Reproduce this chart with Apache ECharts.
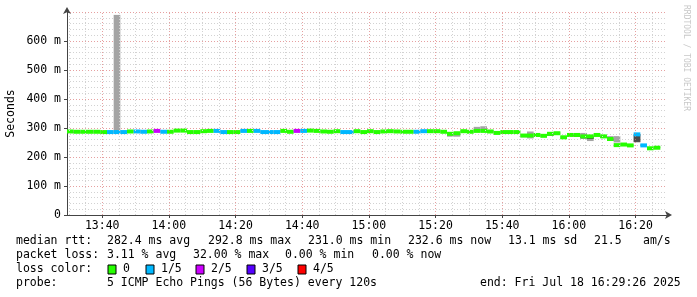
<!DOCTYPE html>
<html><head><meta charset="utf-8">
<script src="https://cdn.jsdelivr.net/npm/echarts@6/dist/echarts.min.js"></script>
<style>html,body{margin:0;padding:0;background:#fff}#c{width:697px;height:297px}</style>
</head><body><div id="c"></div>
<script>
// ---- data (ms), one value per 2-minute probe step ----
const startTime = 13*3600 + 29*60 + 26;   // 13:29:26
const endTime = 16*3600 + 29*60 + 26;     // 16:29:26
const stepSec = 120;
const median = [288,287,287,287,287,286,286,286,286,288,288,287,288,290,287,287,291,291,286,286,
  289,290,290,286,286,286,290,290,290,286,286,286,290,287,290,290,291,290,288,287,
  289,286,286,289,286,289,286,288,289,288,287,287,287,289,289,289,287,280,282,289,
  287,290,290,288,283,286,286,286,274,274,276,273,280,282,268,276,276,271,271,276,
  271,262,241,243,240,278,240,230,232];
// loss count out of 5 pings
const loss = [0,0,0,0,0,0,1,1,1,0,1,1,0,2,1,0,0,0,0,0,
  0,0,1,1,0,0,1,0,1,1,1,1,0,0,2,1,0,0,0,0,
  0,1,1,0,0,0,0,0,0,0,0,0,1,1,0,0,0,0,0,0,
  0,0,0,0,0,0,0,0,0,0,0,0,0,0,0,0,0,0,0,0,
  0,0,0,0,0,1,1,0,0];
const smokeLo = [285,283,285,285,285,280,284,284,284,286,285,284,286,287,285,285,288,288,284,284,
  287,288,287,284,284,284,287,288,287,283,284,284,287,285,288,287,289,288,286,285,
  287,284,284,287,284,287,284,286,287,286,285,284,284,286,287,287,284,270,270,286,
  285,287,287,284,279,284,284,284,268,264,270,270,274,278,262,272,272,262,255,272,
  266,256,250,240,238,250,238,229,231];
const smokeHi = [291,290,290,290,293,289,289,690,289,291,291,293,291,293,290,290,294,294,289,289,
  292,293,293,289,289,289,293,293,293,289,289,289,293,290,293,293,294,293,291,290,
  292,289,289,292,289,292,289,291,292,291,290,290,290,292,292,292,290,284,285,292,
  290,304,306,292,288,289,289,289,278,288,280,277,284,285,272,280,280,283,276,280,
  276,272,272,248,242,278,244,233,235];
const darkLo = [-1,283,-1,-1,-1,-1,-1,-1,-1,-1,-1,-1,-1,-1,-1,-1,-1,-1,-1,-1,
  -1,-1,-1,-1,-1,-1,-1,-1,-1,-1,-1,-1,-1,-1,-1,-1,-1,-1,-1,-1,
  -1,-1,-1,-1,-1,-1,-1,-1,-1,-1,-1,-1,-1,-1,-1,-1,-1,-1,-1,-1,
  -1,-1,-1,-1,-1,-1,-1,-1,-1,-1,-1,-1,274,-1,-1,-1,270,265,262,-1,
  266,256,-1,-1,-1,252,-1,-1,-1];
const darkHi = [-1,286,-1,-1,-1,-1,-1,-1,-1,-1,-1,-1,-1,-1,-1,-1,-1,-1,-1,-1,
  -1,-1,-1,-1,-1,-1,-1,-1,-1,-1,-1,-1,-1,-1,-1,-1,-1,-1,-1,-1,
  -1,-1,-1,-1,-1,-1,-1,-1,-1,-1,-1,-1,-1,-1,-1,-1,-1,-1,-1,-1,
  -1,-1,-1,-1,-1,-1,-1,-1,-1,-1,-1,-1,282,-1,-1,-1,276,271,271,-1,
  271,264,-1,-1,-1,278,-1,-1,-1];
const lossColors = ['#26ff00','#00b8ff','#cc00ff','#5500ff','#ff0000'];
const lossLabels = ['0','1/5','2/5','3/5','4/5'];
const xLabelTimes = ['13:40','14:00','14:20','14:40','15:00','15:20','15:40','16:00','16:20'];

const toSec = s => { const [h,m] = s.split(':').map(Number); return h*3600+m*60; };
const fmt = v => { const h = Math.floor(v/3600), m = Math.round((v%3600)/60); return String(h).padStart(2,'0')+':'+String(m).padStart(2,'0'); };
const majorX = xLabelTimes.map(toSec);
const minorX = [];
for (let t = toSec('13:30'); t < endTime; t += 300) if (!majorX.includes(t)) minorX.push(t);

const rows = median.map((m,i) => [startTime+i*stepSec, startTime+(i+1)*stepSec, smokeLo[i], smokeHi[i], darkLo[i], darkHi[i], m, loss[i]]);

const FONT = '"DejaVu Sans Mono", monospace';
const chart = echarts.init(document.getElementById('c'), null, {renderer:'canvas'});
const txt = (t,x,y,extra) => Object.assign({type:'text', style:{text:t, x:x, y:y, font:'11.5px '+FONT, fill:'#000', verticalAlign:'middle', textVerticalAlign:'middle'}}, extra||{});

const graphics = [
  txt('median rtt:',16,241), txt('282.4 ms avg',107,241), txt('292.8 ms max',208,241), txt('231.0 ms min',308,241),
  txt('232.6 ms now',408,241), txt('13.1 ms sd',508,241), txt('21.5',594,241), txt('am/s',643,241),
  txt('packet loss:',16,255), txt('3.11 % avg',107,255), txt('32.00 % max',193,255), txt('0.00 % min',285,255), txt('0.00 % now',372,255),
  txt('loss color:',16,269),
  txt('probe:',16,283), txt('5 ICMP Echo Pings (56 Bytes) every 120s',107,283), txt('end: Fri Jul 18 16:29:26 2025',480,283),
  {type:'text', x:686, y:5, rotation:-Math.PI/2, style:{text:'RRDTOOL / TOBI OETIKER', x:0, y:0, font:'8px '+FONT, fill:'#c8c8c8', verticalAlign:'middle', textVerticalAlign:'middle'}}
];
const boxX = [108,146,196,247,298];
lossColors.forEach((c,i) => {
  graphics.push({type:'rect', shape:{x:boxX[i], y:265, width:8, height:9}, style:{fill:c, stroke:'#000', lineWidth:1}});
  graphics.push(txt(lossLabels[i], boxX[i]+15, 269));
});

chart.setOption({
  animation:false,
  backgroundColor:'#fff',
  grid:{left:67, top:12, width:600, height:203, outerBoundsMode:'none', containLabel:false},
  xAxis:{type:'value', min:startTime, max:endTime,
    axisLine:{show:true, lineStyle:{color:'#444', width:1}, symbol:['none','arrow'], symbolSize:[6,7], symbolOffset:[0,5]},
    axisTick:{show:true, customValues:majorX, length:3, lineStyle:{color:'#444'}},
    axisLabel:{customValues:majorX, formatter:v=>fmt(v), fontFamily:'DejaVu Sans Mono', fontSize:11.5, color:'#000', margin:5},
    splitLine:{show:false}},
  yAxis:{type:'value', min:0, max:700, interval:100,
    name:'Seconds', nameLocation:'middle', nameGap:50, nameRotate:90, nameMoveOverlap:false,
    nameTextStyle:{fontFamily:'DejaVu Sans Mono', fontSize:11.5, color:'#000'},
    axisLine:{show:true, lineStyle:{color:'#444', width:1}, symbol:['none','arrow'], symbolSize:[6,7], symbolOffset:[0,5]},
    axisTick:{show:true, length:3, inside:false, lineStyle:{color:'#444'}},
    axisLabel:{formatter:v=> v===0 ? '0' : v+' m', showMaxLabel:false, fontFamily:'DejaVu Sans Mono', fontSize:11.5, color:'#000', margin:6},
    splitLine:{show:true, lineStyle:{color:'rgba(220,120,120,0.7)', type:[1,2], width:1}},
    minorTick:{show:false, splitNumber:5},
    minorSplitLine:{show:true, lineStyle:{color:'#d2d2d2', type:[1,2], width:1}}},
  graphic:graphics,
  series:[
    {type:'line', data:[], z:1, silent:true,
      markLine:{silent:true, symbol:['none','none'], animation:false, label:{show:false},
        data: minorX.map(v=>({xAxis:v, lineStyle:{color:'#d2d2d2', type:[1,2], width:1}}))
          .concat(majorX.map(v=>({xAxis:v, lineStyle:{color:'rgba(220,120,120,0.7)', type:[1,2], width:1}})))}},
    {type:'custom', z:3, clip:true, data:rows, encode:{x:[0,1], y:[2,3,6]},
      renderItem:(params, api) => {
        const t0=api.value(0), t1=api.value(1), lo=api.value(2), hi=api.value(3), dlo=api.value(4), dhi=api.value(5), med=api.value(6), ls=api.value(7);
        const a=api.coord([t0,hi]), b=api.coord([t1,lo]);
        const ch=[];
        ch.push({type:'rect', shape:{x:a[0], y:a[1], width:b[0]-a[0], height:Math.max(1,b[1]-a[1])}, style:{fill:'#a4a4a4'}});
        if (dlo >= 0) {
          const c=api.coord([t0,dhi]), d=api.coord([t1,dlo]);
          ch.push({type:'rect', shape:{x:c[0], y:c[1], width:d[0]-c[0], height:d[1]-c[1]}, style:{fill:'#4a4a4a'}});
        }
        const m=api.coord([t0,med]);
        ch.push({type:'rect', shape:{x:a[0], y:m[1]-2, width:b[0]-a[0], height:4}, style:{fill:lossColors[ls]}});
        return {type:'group', children:ch};
      }}
  ]
});
</script></body></html>
